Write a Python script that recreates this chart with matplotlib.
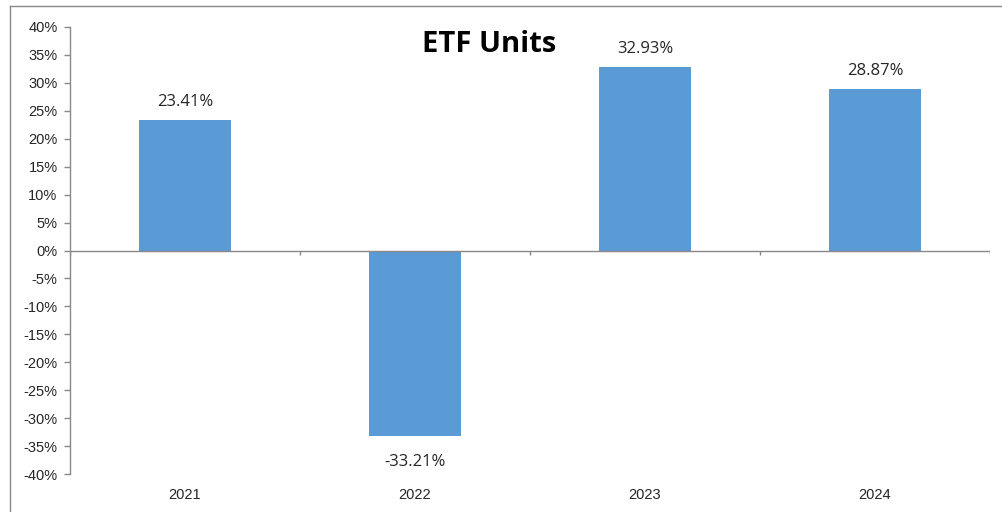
import matplotlib
matplotlib.use("Agg")
import matplotlib.pyplot as plt
from matplotlib.lines import Line2D
import numpy as np

years = ["2021", "2022", "2023", "2024"]
values = [23.41, -33.21, 32.93, 28.87]
value_labels = ["23.41%", "-33.21%", "32.93%", "28.87%"]
yticks = list(range(-40, 45, 5))
ytick_labels = [f"{t}%" for t in yticks]
title = "ETF Units"

fig = plt.figure(figsize=(10.02, 5.12), dpi=100)
ax = fig.add_axes([70/1002, 38/512, 920/1002, 447/512])

x = np.arange(len(years))
bar_color = "#5B9BD5"
ax.bar(x, values, width=0.4, color=bar_color, zorder=2)

ax.set_xlim(-0.5, len(years) - 0.5)
ax.set_ylim(-40, 40)
ax.set_yticks(yticks)
ax.set_yticklabels(ytick_labels, fontsize=10.5, family="Liberation Sans", color="#262626")
ax.tick_params(axis="y", length=4, width=1, color="#898989", pad=5)

ax.set_xticks(x)
ax.set_xticklabels(years, fontsize=10.5, family="Liberation Sans", color="#262626")
ax.tick_params(axis="x", length=0, pad=10)

for s in ["top", "right", "bottom"]:
    ax.spines[s].set_visible(False)
ax.spines["left"].set_color("#898989")
ax.spines["left"].set_linewidth(1)

# zero axis line with category boundary ticks
ax.axhline(0, color="#898989", lw=1, zorder=3)
bounds = np.arange(len(years) + 1) - 0.5
ax.vlines(bounds, -0.75, 0, color="#898989", lw=1, zorder=3)

for xi, v, lab in zip(x, values, value_labels):
    if v >= 0:
        ax.annotate(lab, (xi, v), xytext=(0, 7), textcoords="offset points",
                    ha="center", va="bottom", fontsize=12, family="Open Sans", color="#262626")
    else:
        ax.annotate(lab, (xi, v), xytext=(0, -13), textcoords="offset points",
                    ha="center", va="top", fontsize=12, family="Open Sans", color="#262626")

fig.text(489/1002, 1 - 45/512, title, ha="center", va="center", fontsize=21,
         fontweight="bold", family="Open Sans", color="black")

# outer border (top and left only visible)
fig.add_artist(Line2D([9.5/1002, 9.5/1002], [0, 1 - 5.5/512], transform=fig.transFigure, color="#898989", lw=1))
fig.add_artist(Line2D([9.5/1002, 1], [1 - 5.5/512, 1 - 5.5/512], transform=fig.transFigure, color="#898989", lw=1))

fig.savefig("out.png", dpi=100)
